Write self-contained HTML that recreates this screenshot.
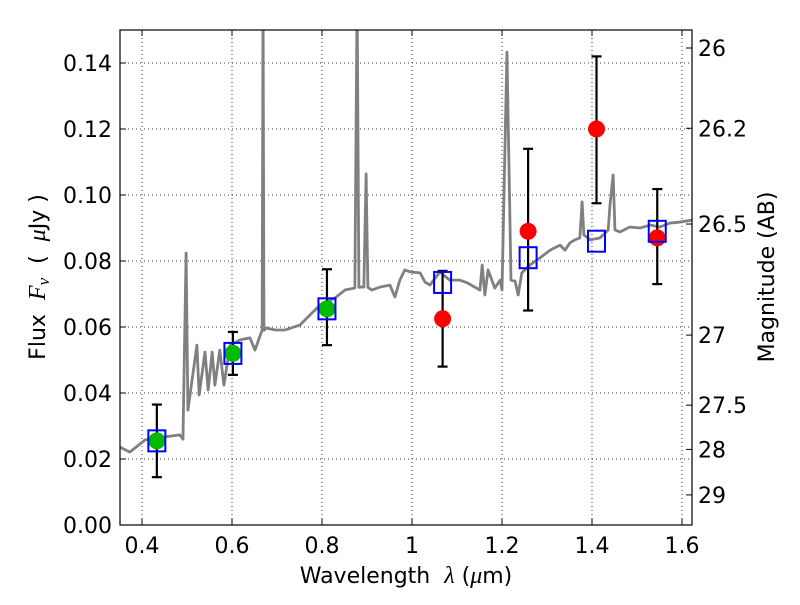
<!DOCTYPE html>
<html><head><meta charset="utf-8"><style>
html,body{margin:0;padding:0;background:#fff;}
svg text{font-family:"DejaVu Sans","Liberation Sans",sans-serif;fill:#000;white-space:pre;}
</style></head><body>
<svg id="chart" width="800" height="600" viewBox="0 0 800 600" xmlns="http://www.w3.org/2000/svg">
<rect width="800" height="600" fill="#fff"/>
<defs><clipPath id="clip"><rect x="120" y="30" width="572" height="495"/></clipPath></defs>
<g id="grid"></g>
<g id="spec" clip-path="url(#clip)"></g>
<g id="marks"></g>
<rect x="120" y="30" width="572" height="495" fill="none" stroke="#000" stroke-width="1.2"/>
<g id="axes"></g>
<text x="406" y="583" font-size="22" text-anchor="middle">Wavelength&#160;&#160;<tspan font-style="italic" font-family="Liberation Serif" font-size="24">λ</tspan>&#160;(<tspan font-style="italic" font-family="Liberation Serif" font-size="24">μ</tspan>m)</text>
<text transform="translate(45,277) rotate(-90)" font-size="22" text-anchor="middle">Flux&#160;&#160;<tspan font-style="italic" font-family="Liberation Serif" font-size="24">F<tspan font-size="17" dy="4">ν</tspan></tspan><tspan dy="-4">&#160;&#160;(&#160;&#160;</tspan><tspan font-style="italic" font-family="Liberation Serif" font-size="24">μ</tspan>Jy&#160;)</text>
<text transform="translate(774,277) rotate(-90)" font-size="22" text-anchor="middle">Magnitude (AB)</text>
</svg>
<script>
const xTicks=[0.4,0.6,0.8,1.0,1.2,1.4,1.6];
const xTickLabels=["0.4","0.6","0.8","1","1.2","1.4","1.6"];
const yTicks=[0,0.02,0.04,0.06,0.08,0.10,0.12,0.14];
const yTickLabels=["0.00","0.02","0.04","0.06","0.08","0.10","0.12","0.14"];
const magTicks=[26,26.2,26.5,27,27.5,28,29];
const magTickLabels=["26","26.2","26.5","27","27.5","28","29"];
const specWave=[0.351,0.373,0.407,0.451,0.484,0.491,0.498,0.502,0.522,0.527,0.540,0.547,0.556,0.562,0.573,0.582,0.596,0.618,0.640,0.651,0.667,0.669,0.671,0.676,0.696,0.718,0.751,0.773,0.796,0.829,0.851,0.873,0.878,0.882,0.884,0.893,0.898,0.902,0.911,0.929,0.951,0.962,0.973,0.984,0.996,1.018,1.029,1.040,1.062,1.084,1.107,1.124,1.151,1.156,1.162,1.169,1.184,1.196,1.200,1.211,1.220,1.229,1.236,1.244,1.262,1.284,1.307,1.329,1.340,1.351,1.362,1.373,1.378,1.382,1.396,1.418,1.429,1.436,1.440,1.447,1.451,1.462,1.484,1.507,1.529,1.551,1.573,1.596,1.622];
const specFlux=[0.0236,0.0221,0.0258,0.0267,0.0273,0.026,0.0824,0.0348,0.0545,0.0394,0.0524,0.0409,0.0524,0.0424,0.053,0.0424,0.0545,0.0561,0.0567,0.053,0.0591,0.16,0.059,0.0597,0.0591,0.0591,0.0606,0.0636,0.0667,0.0688,0.0712,0.0718,0.16,0.072,0.0721,0.0721,0.1064,0.072,0.0712,0.0721,0.0727,0.0691,0.0742,0.0773,0.0767,0.0764,0.0736,0.0727,0.0767,0.0742,0.0742,0.0733,0.0712,0.0788,0.0697,0.0773,0.0718,0.0742,0.0712,0.1433,0.0742,0.0739,0.0697,0.0764,0.0788,0.0809,0.0833,0.0848,0.0833,0.0855,0.0864,0.087,0.0979,0.0879,0.0864,0.087,0.0885,0.0894,0.097,0.1061,0.0894,0.0888,0.0903,0.09,0.0909,0.0903,0.0915,0.0918,0.0924];
const obsWave=[0.433,0.602,0.811,1.068,1.258,1.41,1.545];
const obsFlux=[0.0255,0.052,0.0655,0.0625,0.089,0.12,0.087];
const obsLo=[0.0145,0.0455,0.0545,0.048,0.065,0.0975,0.073];
const obsHi=[0.0365,0.0585,0.0775,0.077,0.114,0.142,0.1018];
const obsColor=["#00bb00","#00bb00","#00bb00","#ff0000","#ff0000","#ff0000","#ff0000"];
const modelFlux=[0.0255,0.052,0.0655,0.0735,0.081,0.086,0.089];

const NS="http://www.w3.org/2000/svg";
const X=v=>412+(v-1)*450;
const Y=v=>525-v*3300;
const M=m=>Y(Math.pow(10,(23.9-m)/2.5));
function mk(tag,attrs,parent){const e=document.createElementNS(NS,tag);for(const k in attrs)e.setAttribute(k,attrs[k]);parent.appendChild(e);return e;}
const grid=document.getElementById('grid'),axes=document.getElementById('axes'),spec=document.getElementById('spec'),marks=document.getElementById('marks');
xTicks.forEach((t,i)=>{
  const g=mk('line',{x1:X(t),x2:X(t),y1:30,y2:525,stroke:'#000','stroke-width':0.8,'stroke-dasharray':'1,3'},grid);
  
  
  mk('line',{x1:X(t),x2:X(t),y1:525,y2:519,stroke:'#000'},axes);
  mk('line',{x1:X(t),x2:X(t),y1:30,y2:36,stroke:'#000'},axes);
  const l=mk('text',{x:X(t),y:553,'font-size':22,'text-anchor':'middle'},axes);l.textContent=xTickLabels[i];
  
  
});
yTicks.forEach((t,i)=>{
  const g=mk('line',{x1:120,x2:692,y1:Y(t),y2:Y(t),stroke:'#000','stroke-width':0.8,'stroke-dasharray':'1,3'},grid);
  
  
  mk('line',{x1:120,x2:126,y1:Y(t),y2:Y(t),stroke:'#000'},axes);
  const l=mk('text',{x:112,y:Y(t)+8,'font-size':22,'text-anchor':'end'},axes);l.textContent=yTickLabels[i];
  
  
});
magTicks.forEach((m,i)=>{
  mk('line',{x1:686,x2:692,y1:M(m),y2:M(m),stroke:'#000'},axes);
  const l=mk('text',{x:698,y:M(m)+8,'font-size':22},axes);l.textContent=magTickLabels[i];
  
  
});
const p=mk('polyline',{points:specWave.map((w,i)=>X(w)+','+Y(specFlux[i])).join(' '),fill:'none',stroke:'#808080','stroke-width':2.8,'stroke-linejoin':'round'},spec);


obsWave.forEach((w,i)=>{
  const x=X(w);
  const e=mk('g',{},marks);
  
  
  mk('line',{x1:x,x2:x,y1:Y(obsLo[i]),y2:Y(obsHi[i]),stroke:'#000','stroke-width':2.2},e);
  mk('line',{x1:x-5,x2:x+5,y1:Y(obsLo[i]),y2:Y(obsLo[i]),stroke:'#000','stroke-width':2.2},e);
  mk('line',{x1:x-5,x2:x+5,y1:Y(obsHi[i]),y2:Y(obsHi[i]),stroke:'#000','stroke-width':2.2},e);
  const c=mk('circle',{cx:x,cy:Y(obsFlux[i]),r:8.5,fill:obsColor[i]},marks);
  
  
});
obsWave.forEach((w,i)=>{
  const s=mk('rect',{x:X(w)-8.5,y:Y(modelFlux[i])-10.5,width:17,height:21,fill:'none',stroke:'#0000ff','stroke-width':2},marks);
  
  
});
</script>
</body></html>
